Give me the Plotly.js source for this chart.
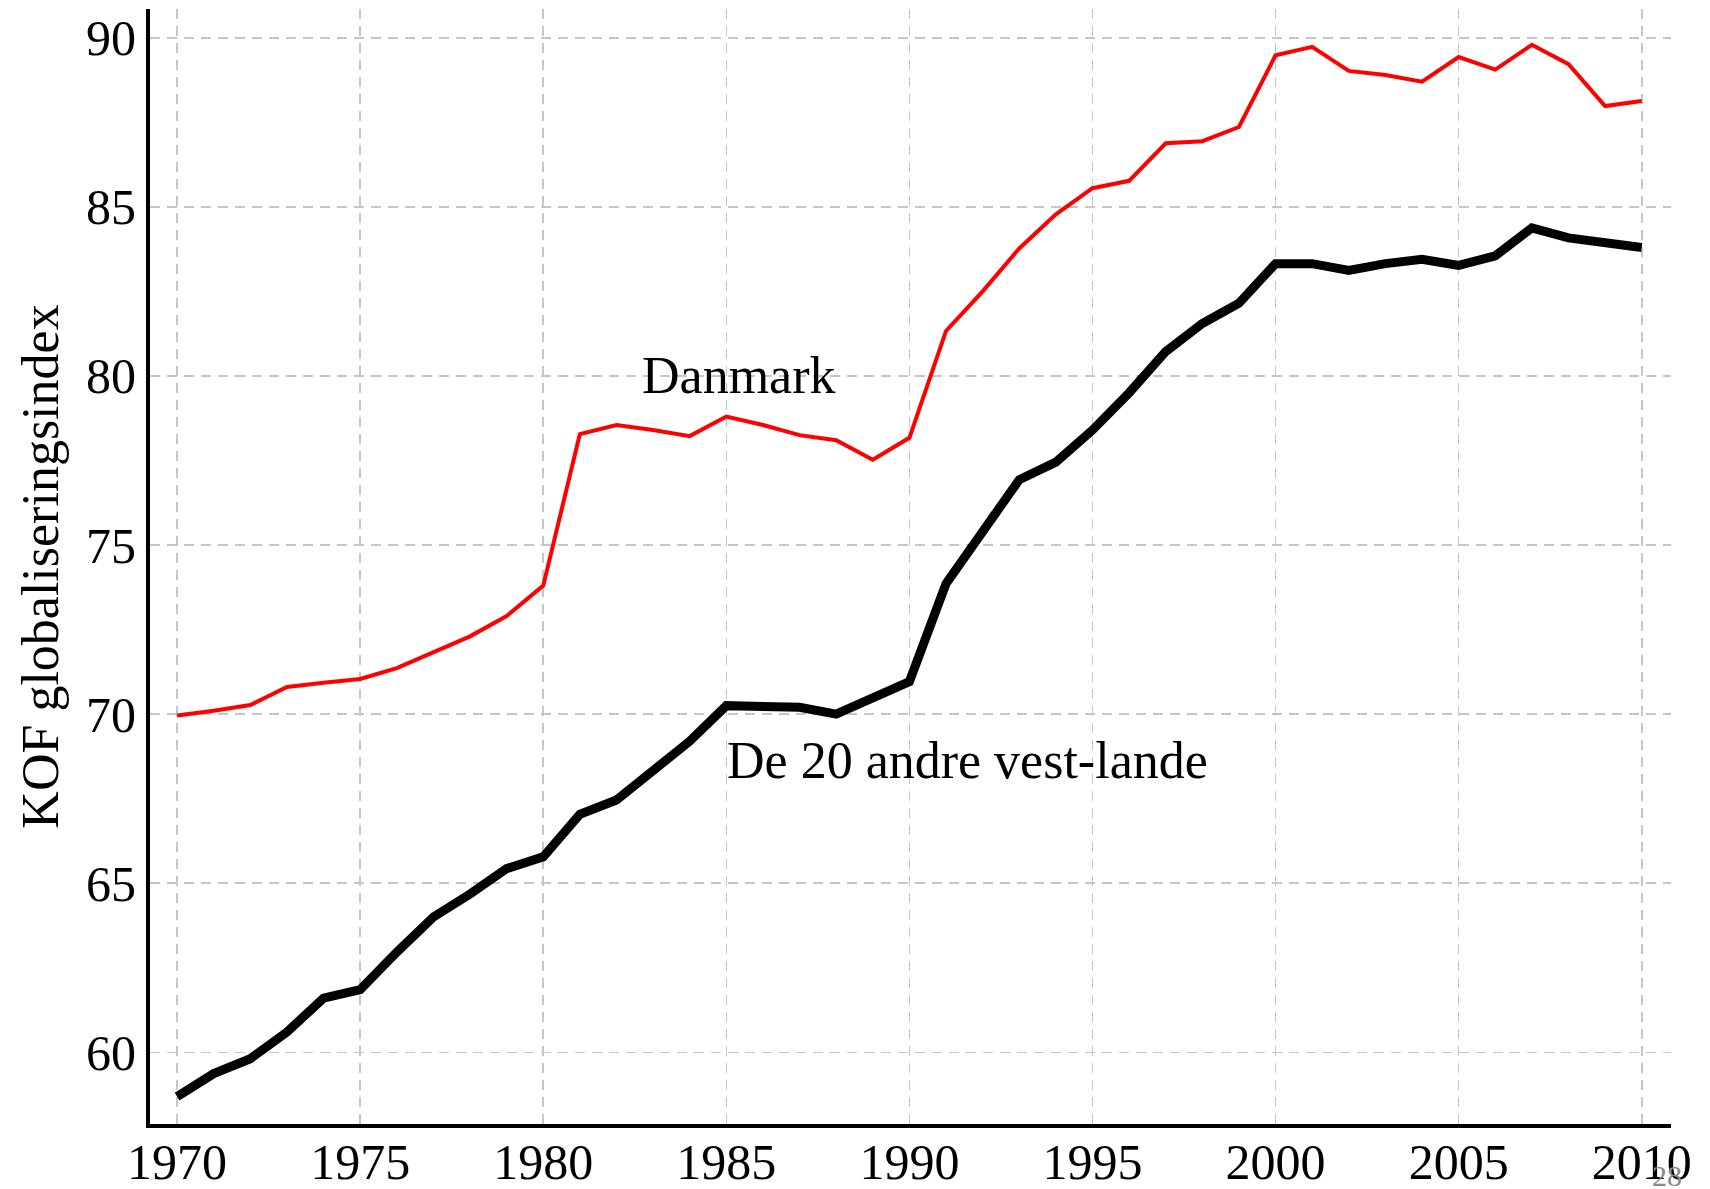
<!DOCTYPE html>
<html>
<head>
<meta charset="utf-8">
<script src="https://cdn.plot.ly/plotly-3.0.1.min.js"></script>
<style>html,body{margin:0;padding:0;background:#fff;}#chart{width:1710px;height:1189px;}</style>
</head>
<body>
<div id="chart"></div>
<script>
const years = [1970,1971,1972,1973,1974,1975,1976,1977,1978,1979,1980,1981,1982,1983,1984,1985,1986,1987,1988,1989,1990,1991,1992,1993,1994,1995,1996,1997,1998,1999,2000,2001,2002,2003,2004,2005,2006,2007,2008,2009,2010];
const danmark = [69.96,70.10,70.27,70.80,70.93,71.04,71.36,71.82,72.30,72.90,73.80,78.28,78.55,78.40,78.22,78.80,78.55,78.25,78.10,77.52,78.17,81.33,82.50,83.77,84.78,85.55,85.77,86.88,86.94,87.36,89.48,89.73,89.02,88.90,88.70,89.43,89.06,89.79,89.22,87.98,88.13];
const vestlande = [58.69,59.37,59.81,60.60,61.60,61.85,62.96,64.00,64.68,65.43,65.78,67.04,67.46,68.33,69.20,70.25,70.20,70.20,70.00,70.47,70.96,73.86,75.35,76.93,77.45,78.40,79.50,80.72,81.55,82.15,83.32,83.32,83.12,83.32,83.45,83.27,83.55,84.38,84.08,83.93,83.80];
const xTicks = [1970,1975,1980,1985,1990,1995,2000,2005,2010];
const yTicks = [60,65,70,75,80,85,90];
const labelDanmark = "Danmark";
const labelVest = "De 20 andre vest-lande";
const yTitle = "KOF globaliseringsindex";
const pageNo = "28";

const serif = "Liberation Serif, Times New Roman, serif";

const traces = [
  {x: years, y: vestlande, type: 'scatter', mode: 'lines', name: labelVest,
   line: {color: '#000000', width: 9}},
  {x: years, y: danmark, type: 'scatter', mode: 'lines', name: labelDanmark,
   line: {color: '#ff0000', width: 4}}
];

const layout = {
  width: 1710, height: 1189,
  margin: {l: 150, r: 39, t: 9, b: 65, pad: 0},
  paper_bgcolor: '#ffffff', plot_bgcolor: '#ffffff',
  showlegend: false,
  font: {family: serif, color: '#000000', size: 50},
  xaxis: {
    range: [1969.26, 2010.8],
    tickvals: xTicks, ticktext: xTicks.map(String),
    showgrid: true, gridcolor: '#c6c6c6', gridwidth: 1.6, griddash: '10px,7px',
    zeroline: false, showline: true, linecolor: '#000000', linewidth: 4,
    ticks: '', ticklabelstandoff: -9,
    tickfont: {family: serif, size: 50, color: '#000000'}
  },
  yaxis: {
    range: [57.88, 90.85],
    tickvals: yTicks, ticktext: yTicks.map(String),
    showgrid: true, gridcolor: '#c6c6c6', gridwidth: 1.6, griddash: '10px,7px',
    zeroline: false, showline: true, linecolor: '#000000', linewidth: 4,
    ticks: '', tickfont: {family: serif, size: 50, color: '#000000'},
    automargin: true,
    title: {text: yTitle, standoff: 12, font: {family: serif, size: 52, color: '#000000'}}
  },
  annotations: [
    {x: 1985.33, y: 80.0, xref: 'x', yref: 'y', text: labelDanmark, showarrow: false,
     xanchor: 'center', yanchor: 'middle', font: {family: serif, size: 52, color: '#000000'}},
    {x: 1991.6, y: 68.64, xref: 'x', yref: 'y', text: labelVest, showarrow: false,
     xanchor: 'center', yanchor: 'middle', font: {family: serif, size: 52, color: '#000000'}},
    {x: 0.9974, y: -0.0466, xref: 'paper', yref: 'paper', text: pageNo, showarrow: false,
     xanchor: 'center', yanchor: 'middle', font: {family: serif, size: 30, color: '#8a8a8a'}}
  ]
};

Plotly.newPlot('chart', traces, layout, {staticPlot: true, displayModeBar: false});
</script>
</body>
</html>
